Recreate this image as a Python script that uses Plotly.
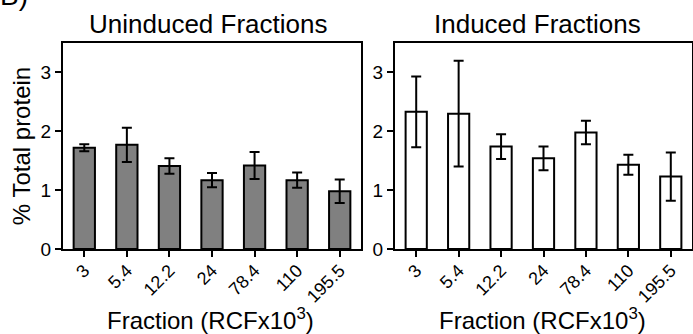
import plotly.graph_objects as go

categories = ["3", "5.4", "12.2", "24", "78.4", "110", "195.5"]
uninduced = [1.72, 1.77, 1.41, 1.17, 1.42, 1.17, 0.98]
uninduced_err = [0.06, 0.29, 0.13, 0.12, 0.23, 0.13, 0.20]
induced = [2.33, 2.30, 1.74, 1.54, 1.98, 1.43, 1.23]
induced_err = [0.60, 0.90, 0.21, 0.20, 0.20, 0.17, 0.41]
yticks = [0, 1, 2, 3]
x_title = "Fraction (RCFx10<sup>3</sup>)"
y_title = "% Total protein"

W, H = 693, 334
FONT = "Liberation Sans, Arial, Helvetica, sans-serif"

fig = go.Figure()
fig.add_trace(go.Bar(
    x=categories, y=uninduced, xaxis="x", yaxis="y",
    width=0.5, marker=dict(color="#808080", line=dict(color="black", width=2)),
    error_y=dict(type="data", array=uninduced_err, color="black", thickness=2, width=5),
    showlegend=False))
fig.add_trace(go.Bar(
    x=categories, y=induced, xaxis="x2", yaxis="y2",
    width=0.5, marker=dict(color="white", line=dict(color="black", width=2)),
    error_y=dict(type="data", array=induced_err, color="black", thickness=2, width=5),
    showlegend=False))

def px_x(p):
    return p / W

def px_y(p):
    return 1 - p / H

xcommon = dict(type="category", range=[-0.5, 6.5], showline=True, linecolor="black",
               linewidth=2, mirror=True, ticks="outside", ticklen=6, tickwidth=2,
               tickcolor="black", tickangle=-45, tickfont=dict(size=18, color="black", family=FONT),
               ticklabelstandoff=-4,
               showgrid=False, zeroline=False, automargin=False)
ycommon = dict(range=[0, 3.5], tickvals=yticks, showline=True, linecolor="black", linewidth=2,
               mirror=True, ticks="outside", ticklen=6, tickwidth=2, tickcolor="black",
               tickfont=dict(size=19, color="black", family=FONT), showgrid=False, zeroline=False,
               automargin=False)

def ann(text, x, y, size, xanchor="center", yanchor="middle"):
    return dict(text=text, x=px_x(x), y=px_y(y), xref="paper", yref="paper",
                xanchor=xanchor, yanchor=yanchor, showarrow=False,
                font=dict(size=size, color="black", family=FONT))

fig.update_layout(
    width=W, height=H, template="none",
    paper_bgcolor="white", plot_bgcolor="white",
    margin=dict(l=0, r=0, t=0, b=0),
    font=dict(family=FONT, color="black"),
    bargap=0.5,
    xaxis=dict(domain=[px_x(63), px_x(361)], anchor="y", **xcommon),
    yaxis=dict(domain=[px_y(249), px_y(43)], anchor="x",
               title=dict(text=y_title, font=dict(size=24, color="black", family=FONT), standoff=3),
               **ycommon),
    xaxis2=dict(domain=[px_x(395), px_x(692)], anchor="y2", **xcommon),
    yaxis2=dict(domain=[px_y(249), px_y(43)], anchor="x2", **ycommon),
    annotations=[
        ann("Uninduced Fractions", 208, 24, 26),
        ann("Induced Fractions", 537, 24, 26),
        ann(x_title, 210, 336, 24, yanchor="bottom"),
        ann(x_title, 542, 336, 24, yanchor="bottom"),
        ann("B)", -2, 13, 28, xanchor="left", yanchor="bottom"),
    ],
)

fig.write_html("out.html", config={"displayModeBar": False},
               post_script="document.body.style.margin='0';document.body.style.overflow='hidden';")
